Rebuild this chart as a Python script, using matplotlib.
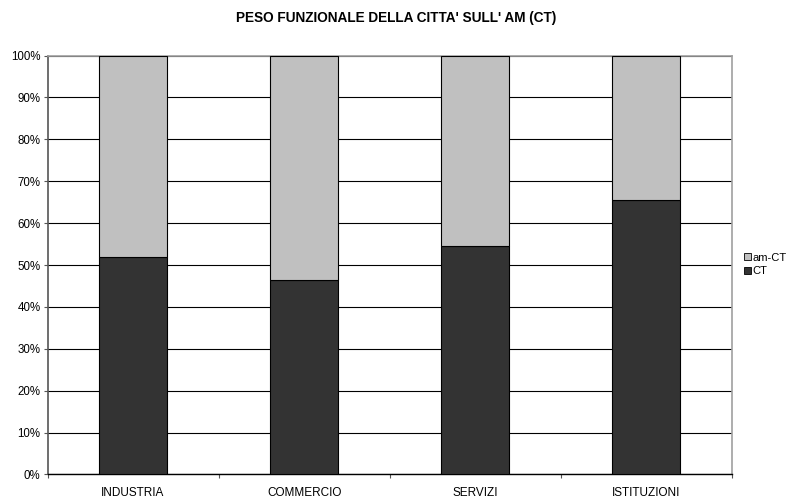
import numpy as np
import matplotlib
matplotlib.use("Agg")
from matplotlib import pyplot as plt
from matplotlib.patches import Patch

plt.rcParams['font.family'] = ['Liberation Sans', 'DejaVu Sans']

# Data (share of CT vs rest of metro area)
categories = ["INDUSTRIA", "COMMERCIO", "SERVIZI", "ISTITUZIONI"]
ct_share = [52.0, 46.5, 54.6, 65.5]
am_ct_share = [100 - v for v in ct_share]

fig = plt.figure(figsize=(7.92, 5.01), dpi=100)
ax = fig.add_axes([0.060, 0.053, 0.864, 0.836])

x = np.arange(len(categories))
ax.bar(x, ct_share, width=0.4, color="#333333", edgecolor="black", linewidth=0.8, zorder=3)
ax.bar(x, am_ct_share, width=0.4, bottom=ct_share, color="#C0C0C0",
       edgecolor="black", linewidth=0.8, zorder=3)

ax.set_xlim(-0.5, len(categories) - 0.5)
ax.set_ylim(0, 100)

# y axis: percent ticks + black gridlines
ax.set_yticks(np.arange(0, 101, 10))
ax.set_yticklabels([f"{v}%" for v in range(0, 101, 10)], fontsize=8.3)
ax.yaxis.grid(True, color="black", linewidth=0.8, zorder=0)
ax.tick_params(axis="y", length=3, width=0.8, color="#555555", pad=2)

# x axis: labels at centres, tick marks between categories
ax.set_xticks(x)
ax.set_xticklabels(categories, fontsize=8.5)
ax.set_xticks(np.arange(-0.5, len(categories), 1.0), minor=True)
ax.tick_params(axis="x", which="major", length=0, pad=9)
ax.tick_params(axis="x", which="minor", length=3, width=0.8, color="#555555")

ax.spines["left"].set_color("#555555")
ax.spines["left"].set_linewidth(1.2)
ax.spines["bottom"].set_color("black")
ax.spines["bottom"].set_linewidth(1.0)
for s in ("top", "right"):
    ax.spines[s].set_color("#a0a0a0")
    ax.spines[s].set_linewidth(1.2)

fig.text(0.5, 0.965, "PESO FUNZIONALE DELLA CITTA' SULL' AM (CT)",
         ha="center", va="center", fontsize=9.8, fontweight="bold")

handles = [Patch(facecolor="#C0C0C0", edgecolor="black", linewidth=0.6),
           Patch(facecolor="#333333", edgecolor="black", linewidth=0.6)]
fig.legend(handles, ["am-CT", "CT"], loc="center left", bbox_to_anchor=(0.940, 0.472),
           frameon=False, fontsize=8, handlelength=0.6, handleheight=0.6,
           handletextpad=0.15, labelspacing=0.35, borderpad=0, borderaxespad=0)

fig.savefig("out.png", dpi=100)
